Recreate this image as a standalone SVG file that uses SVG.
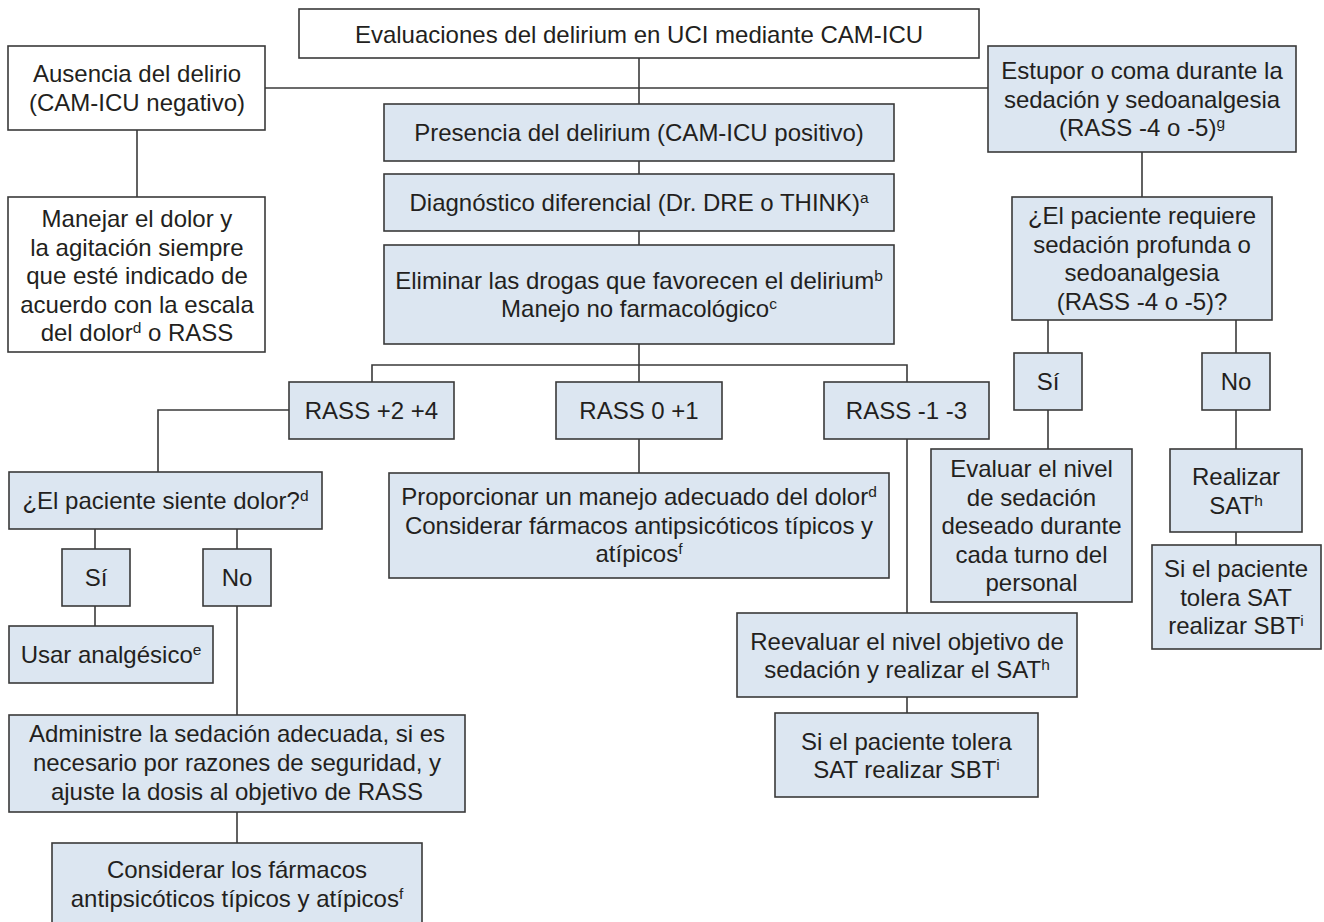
<svg xmlns="http://www.w3.org/2000/svg" width="1324" height="922" viewBox="0 0 1324 922">
<style>
.b{fill:#dce6f1;stroke:#3a3a3a;stroke-width:1.6}
.w{fill:#ffffff;stroke:#3a3a3a;stroke-width:1.6}
text{font-family:"Liberation Sans",Arial,Helvetica,sans-serif;font-size:24px;fill:#231f20;text-anchor:middle}
.s{font-size:15.5px;baseline-shift:super}
#connectors path{fill:none;stroke:#3a3a3a;stroke-width:1.6}
</style>
<rect width="1324" height="922" fill="#ffffff"/>
<g id="connectors">
<path d="M639 58V104"/>
<path d="M265 88H988"/>
<path d="M639 161V174"/>
<path d="M639 231V245"/>
<path d="M137 130V197"/>
<path d="M639 344V382"/>
<path d="M372 382V365H907V382"/>
<path d="M289 410H158V472"/>
<path d="M95 529V549"/>
<path d="M237 529V549"/>
<path d="M95 606V626"/>
<path d="M237 606V715"/>
<path d="M237 812V843"/>
<path d="M639 439V473"/>
<path d="M907 439V613"/>
<path d="M907 697V713"/>
<path d="M1142 152V197"/>
<path d="M1048 320V353"/>
<path d="M1236 320V353"/>
<path d="M1048 410V449"/>
<path d="M1236 410V449"/>
<path d="M1236 532V545"/>
</g>
<g id="n-top"><rect class="w" x="299" y="9" width="680" height="49"/><text x="639" y="43">Evaluaciones del delirium en UCI mediante CAM-ICU</text></g>
<g id="n-ausencia"><rect class="w" x="8" y="46" width="257" height="84"/><text x="137" y="82">Ausencia del delirio</text><text x="137" y="111">(CAM-ICU negativo)</text></g>
<g id="n-manejar"><rect class="w" x="8" y="197" width="257" height="155"/>
<text x="137" y="227">Manejar el dolor y</text>
<text x="137" y="255.5">la agitación siempre</text>
<text x="137" y="284">que esté indicado de</text>
<text x="137" y="312.5">acuerdo con la escala</text>
<text x="137" y="341">del dolor<tspan class="s">d</tspan> o RASS</text></g>
<g id="n-presencia"><rect class="b" x="384" y="104" width="510" height="57"/><text x="639" y="141">Presencia del delirium (CAM-ICU positivo)</text></g>
<g id="n-diag"><rect class="b" x="384" y="174" width="510" height="57"/><text x="639" y="211">Diagnóstico diferencial (Dr. DRE o THINK)<tspan class="s">a</tspan></text></g>
<g id="n-eliminar"><rect class="b" x="384" y="245" width="510" height="99"/><text x="639" y="289">Eliminar las drogas que favorecen el delirium<tspan class="s">b</tspan></text><text x="639" y="317">Manejo no farmacológico<tspan class="s">c</tspan></text></g>
<g id="n-estupor"><rect class="b" x="988" y="46" width="308" height="106"/>
<text x="1142" y="79">Estupor o coma durante la</text>
<text x="1142" y="107.5">sedación y sedoanalgesia</text>
<text x="1142" y="136">(RASS -4 o -5)<tspan class="s">g</tspan></text></g>
<g id="n-requiere"><rect class="b" x="1012" y="197" width="260" height="123"/>
<text x="1142" y="224">¿El paciente requiere</text>
<text x="1142" y="252.5">sedación profunda o</text>
<text x="1142" y="281">sedoanalgesia</text>
<text x="1142" y="309.5">(RASS -4 o -5)?</text></g>
<g id="n-rass24"><rect class="b" x="289" y="382" width="165" height="57"/><text x="371.5" y="419">RASS +2 +4</text></g>
<g id="n-rass01"><rect class="b" x="556" y="382" width="166" height="57"/><text x="639" y="419">RASS 0 +1</text></g>
<g id="n-rass13"><rect class="b" x="824" y="382" width="165" height="57"/><text x="906.5" y="419">RASS -1 -3</text></g>
<g id="n-si-r"><rect class="b" x="1014" y="353" width="68" height="57"/><text x="1048" y="390">Sí</text></g>
<g id="n-no-r"><rect class="b" x="1202" y="353" width="68" height="57"/><text x="1236" y="390">No</text></g>
<g id="n-evaluar"><rect class="b" x="931" y="449" width="201" height="153"/>
<text x="1031.5" y="477">Evaluar el nivel</text>
<text x="1031.5" y="505.5">de sedación</text>
<text x="1031.5" y="534">deseado durante</text>
<text x="1031.5" y="562.5">cada turno del</text>
<text x="1031.5" y="591">personal</text></g>
<g id="n-realizar"><rect class="b" x="1170" y="449" width="132" height="83"/><text x="1236" y="485">Realizar</text><text x="1236" y="513.5">SAT<tspan class="s">h</tspan></text></g>
<g id="n-sbt-r"><rect class="b" x="1152" y="545" width="169" height="104"/>
<text x="1236" y="577">Si el paciente</text>
<text x="1236" y="605.5">tolera SAT</text>
<text x="1236" y="634">realizar SBT<tspan class="s">i</tspan></text></g>
<g id="n-dolor"><rect class="b" x="9" y="472" width="313" height="57"/><text x="165.5" y="509">¿El paciente siente dolor?<tspan class="s">d</tspan></text></g>
<g id="n-si-l"><rect class="b" x="62" y="549" width="68" height="57"/><text x="96" y="586">Sí</text></g>
<g id="n-no-l"><rect class="b" x="203" y="549" width="68" height="57"/><text x="237" y="586">No</text></g>
<g id="n-usar"><rect class="b" x="9" y="626" width="204" height="57"/><text x="111" y="663">Usar analgésico<tspan class="s">e</tspan></text></g>
<g id="n-administre"><rect class="b" x="9" y="715" width="456" height="97"/>
<text x="237" y="742">Administre la sedación adecuada, si es</text>
<text x="237" y="771">necesario por razones de seguridad, y</text>
<text x="237" y="800">ajuste la dosis al objetivo de RASS</text></g>
<g id="n-considerar"><rect class="b" x="52" y="843" width="370" height="90"/>
<text x="237" y="878">Considerar los fármacos</text>
<text x="237" y="906.5">antipsicóticos típicos y atípicos<tspan class="s">f</tspan></text></g>
<g id="n-proporcionar"><rect class="b" x="389" y="473" width="500" height="105"/>
<text x="639" y="505">Proporcionar un manejo adecuado del dolor<tspan class="s">d</tspan></text>
<text x="639" y="533.5">Considerar fármacos antipsicóticos típicos y</text>
<text x="639" y="562">atípicos<tspan class="s">f</tspan></text></g>
<g id="n-reevaluar"><rect class="b" x="737" y="613" width="340" height="84"/>
<text x="907" y="649.5">Reevaluar el nivel objetivo de</text>
<text x="907" y="678">sedación y realizar el SAT<tspan class="s">h</tspan></text></g>
<g id="n-sbt-c"><rect class="b" x="775" y="713" width="263" height="84"/>
<text x="906.5" y="749.5">Si el paciente tolera</text>
<text x="906.5" y="778">SAT realizar SBT<tspan class="s">i</tspan></text></g>
</svg>
